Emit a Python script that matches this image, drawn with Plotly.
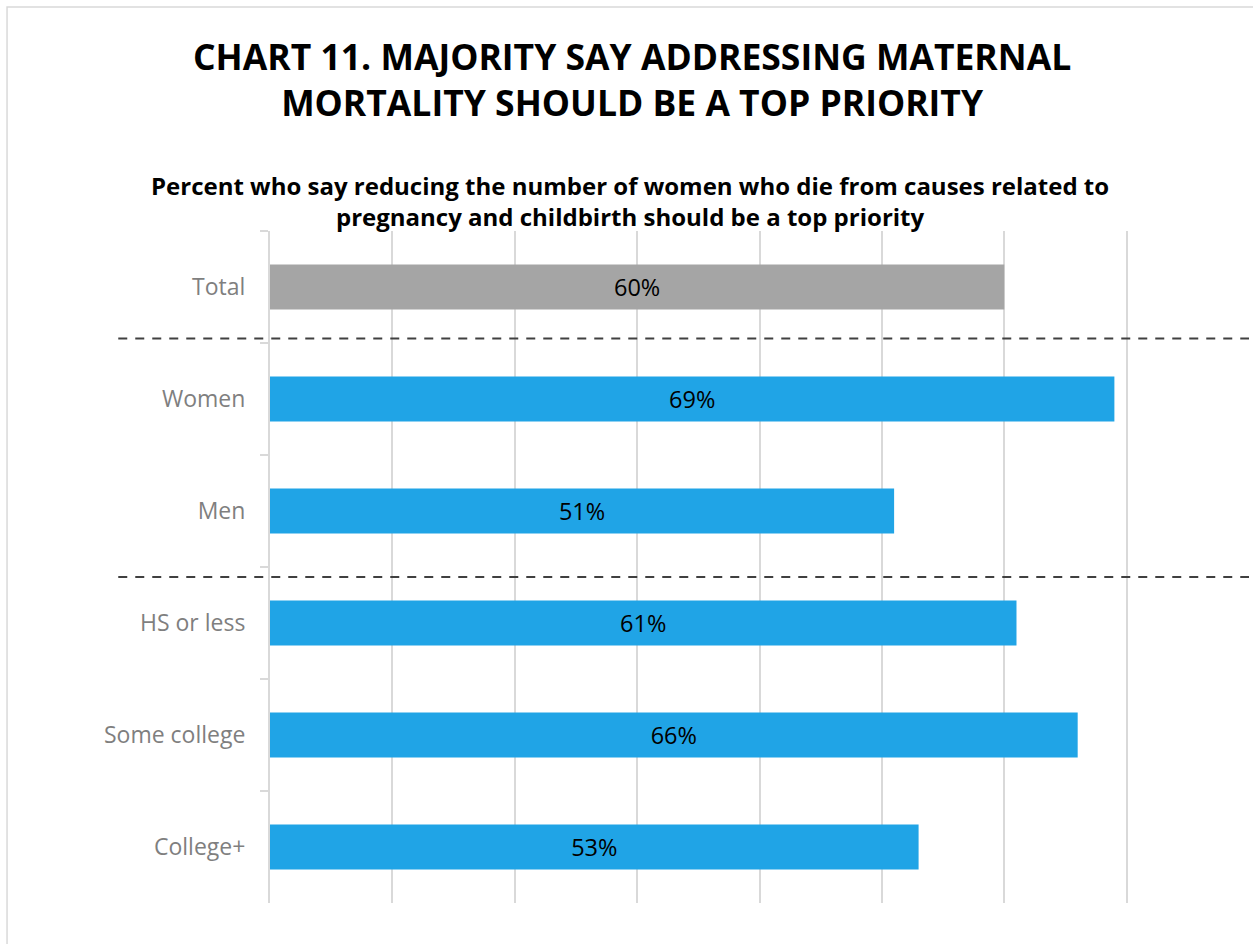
import plotly.graph_objects as go

# Survey groups and share saying it should be a top priority (%)
groups = ["Total", "Women", "Men", "HS or less", "Some college", "College+"]
values = [60, 69, 51, 61, 66, 53]
bar_colors = ["#A5A5A5", "#20A4E6", "#20A4E6", "#20A4E6", "#20A4E6", "#20A4E6"]
labels = [f"{v}%" for v in values]

title_text = "CHART 11. MAJORITY SAY ADDRESSING MATERNAL<br>MORTALITY SHOULD BE A TOP PRIORITY"
subtitle_text = ("Percent who say reducing the number of women who die from causes related to<br>"
                 "pregnancy and childbirth should be a top priority")

FONT = "Open Sans"

fig = go.Figure(
    go.Bar(
        x=values,
        y=groups,
        orientation="h",
        marker=dict(color=bar_colors, line=dict(width=0)),
        width=0.4,
        text=labels,
        textposition="inside",
        insidetextanchor="middle",
        textangle=0,
        constraintext="none",
        textfont=dict(family=FONT, size=23.5, color="#000000"),
        hoverinfo="skip",
    )
)

# group separators
sep_style = dict(color="#404040", width=2, dash="9px,8px")
for ypos in (0.46, 2.59):
    fig.add_shape(type="line", xref="paper", yref="y", x0=-0.155, x1=1.0,
                  y0=ypos, y1=ypos, line=sep_style, layer="above")

# outer frame
fig.add_shape(type="rect", xref="paper", yref="paper", x0=-0.2686, x1=1.02,
              y0=-0.2, y1=1.3333, line=dict(color="#D9D9D9", width=1.5),
              fillcolor="rgba(0,0,0,0)", layer="below")

fig.add_annotation(text=title_text, xref="paper", yref="paper",
                   x=0.37, y=1 + (231 - 79) / 672, xanchor="center", yanchor="middle",
                   showarrow=False, align="center",
                   font=dict(family=FONT, size=35.5, color="#000000", weight="bold"))
fig.add_annotation(text=subtitle_text, xref="paper", yref="paper",
                   x=0.368, y=1 + (231 - 201) / 672, xanchor="center", yanchor="middle",
                   showarrow=False, align="center",
                   font=dict(family=FONT, size=24, color="#000000", weight="bold"))

fig.update_layout(
    width=1253,
    height=944,
    margin=dict(l=270, r=4, t=231, b=41),
    paper_bgcolor="#FFFFFF",
    plot_bgcolor="#FFFFFF",
    showlegend=False,
    bargap=0.6,
    uniformtext=dict(minsize=23, mode="show"),
    xaxis=dict(range=[0, 80], dtick=10, showgrid=True, gridcolor="#D9D9D9", gridwidth=2,
               zeroline=False, showticklabels=False, showline=False, fixedrange=True),
    yaxis=dict(autorange="reversed", showline=True, linecolor="#D9D9D9", linewidth=2,
               ticks="outside", tickson="boundaries", ticklen=8, tickcolor="#D9D9D9",
               tickwidth=2, ticklabelstandoff=18,
               tickfont=dict(family=FONT, size=23, color="#7F7F7F"), fixedrange=True),
)

fig.write_html("out.html")
